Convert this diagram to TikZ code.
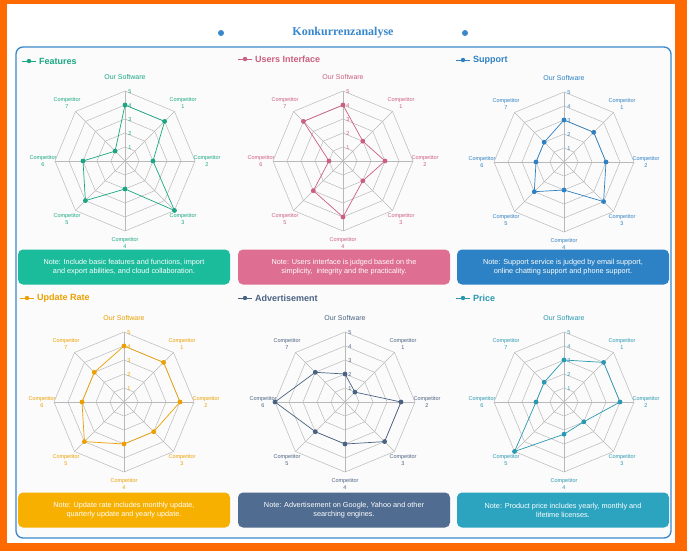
\documentclass[tikz,border=0pt]{standalone}
\usepackage{fontspec}
\setmainfont{Liberation Sans}
\newfontfamily\titlefont{Liberation Serif}
\usetikzlibrary{positioning}
\definecolor{featgreen}{HTML}{1AA683}
\definecolor{featbox}{HTML}{1ABC9C}
\definecolor{uipink}{HTML}{CC5F80}
\definecolor{uibox}{HTML}{DE6E92}
\definecolor{supblue}{HTML}{2E80C2}
\definecolor{supbox}{HTML}{2C82C4}
\definecolor{updorange}{HTML}{EBA000}
\definecolor{updbox}{HTML}{F8B000}
\definecolor{adslate}{HTML}{4A6282}
\definecolor{adbox}{HTML}{506C90}
\definecolor{pricecyan}{HTML}{2A98B0}
\definecolor{pricebox}{HTML}{2CA4C0}
\definecolor{frameblue}{HTML}{3A88CC}
\definecolor{pageorange}{HTML}{FF6A00}
\tikzset{
  gridline/.style={draw=gray!55, line width=0.5pt},
  axislabel/.style={font=\fontsize{5.5}{6.5}\selectfont, align=center, inner sep=0pt},
  notebox/.style={rounded corners=5pt, minimum width=212pt, minimum height=35pt, align=center,
    text=white, font=\fontsize{7.3}{9}\selectfont, inner sep=2pt},
  paneltitle/.style={font=\bfseries\fontsize{9}{10}\selectfont, anchor=west, inner sep=0pt}
}
% one radar chart: x, y, colour, values
\newcommand{\radarchart}[4]{%
  \begin{scope}[shift={(#1,#2)}, x=1pt, y=1pt]
    \foreach \r in {1,...,5}
      \draw[gridline] (90:\r*14) -- (45:\r*14) -- (0:\r*14) -- (-45:\r*14) -- (-90:\r*14)
        -- (-135:\r*14) -- (180:\r*14) -- (135:\r*14) -- cycle;
    \foreach \k in {0,...,7}
      \draw[gridline] (0,0) -- (90-45*\k:70);
    \foreach \r in {1,...,5}
      \node[axislabel, text=#3] at (5,\r*14-1) {\r};
    \node[font=\fontsize{7}{8}\selectfont, text=#3] (our) at (0,84) {Our Software};
    \foreach \k in {1,...,7}
      \node[axislabel, text=#3] (comp\k) at (90-45*\k:82) {Competitor\\[1pt]\k};
    \foreach \v [count=\k from 0] in {#4}
      \coordinate (p\k) at (90-45*\k:\v*14);
    \draw[#3, line width=0.7pt] (p0) -- (p1) -- (p2) -- (p3) -- (p4) -- (p5) -- (p6) -- (p7) -- cycle;
    \foreach \k in {0,...,7}
      \fill[#3] (p\k) circle (2.4pt);
  \end{scope}}
% panel title with legend marker: x, y, colour, text
\newcommand{\paneltitle}[4]{%
  \draw[#3, line width=0.8pt] (#1,#2) -- ++(14,0);
  \fill[#3] (#1+7,#2) circle (2.2pt);
  \node[paneltitle, text=#3] at (#1+17,#2) {#4};}

\begin{document}
\begin{tikzpicture}[x=1pt, y=-1pt]
  \fill[pageorange] (0,0) rectangle (687,551);
  \fill[white] (7,4) rectangle (675,543);
  \useasboundingbox (0,0) rectangle (687,551);
  % title
  \node[font=\titlefont\bfseries\fontsize{12}{14}\selectfont, text=frameblue] (title) at (343,33) {Konkurrenzanalyse};
  \fill[frameblue] (221,33) circle (3pt);
  \fill[frameblue] (465,33) circle (3pt);
  \draw[frameblue, line width=1.3pt, rounded corners=7pt, fill=gray!3] (16,47) rectangle (671,538);

  % first row
  \paneltitle{22}{61}{featgreen}{Features}
  \paneltitle{238}{59}{uipink}{Users Interface}
  \paneltitle{456}{60}{supblue}{Support}
  \radarchart{125}{161}{featgreen}{4,4,2,5,2,4,3,1}
  \radarchart{343}{161}{uipink}{4,2,3,2,4,3,1,4}
  \radarchart{564}{162}{supblue}{3,3,3,4,2,3,2,2}
  \node[notebox, fill=featbox] (note1) at (124,267) {Note: Include basic features and functions, import\\and export abilities, and cloud collaboration.};
  \node[notebox, fill=uibox] (note2) at (344,267) {Note: Users interface is judged based on the\\simplicity,\ \ integrity and the practicality.};
  \node[notebox, fill=supbox] (note3) at (563,267) {Note: Support service is judged by email support,\\online chatting support and phone support.};

  % second row
  \paneltitle{20}{298}{updorange}{Update Rate}
  \paneltitle{238}{298}{adslate}{Advertisement}
  \paneltitle{456}{298}{pricecyan}{Price}
  \radarchart{124}{402}{updorange}{4,4,4,3,3,4,3,3}
  \radarchart{345}{402}{adslate}{2,1,4,4,3,3,5,3}
  \radarchart{564}{402}{pricecyan}{3,4,4,2,2.3,5,2,2}
  \node[notebox, fill=updbox] (note4) at (124,510) {Note: Update rate includes monthly update,\\quarterly update and yearly update.};
  \node[notebox, fill=adbox] (note5) at (344,510) {Note: Advertisement on Google, Yahoo and other\\searching engines.};
  \node[notebox, fill=pricebox] (note6) at (563,510) {Note: Product price includes yearly, monthly and\\lifetime licenses.};
\end{tikzpicture}
\end{document}
